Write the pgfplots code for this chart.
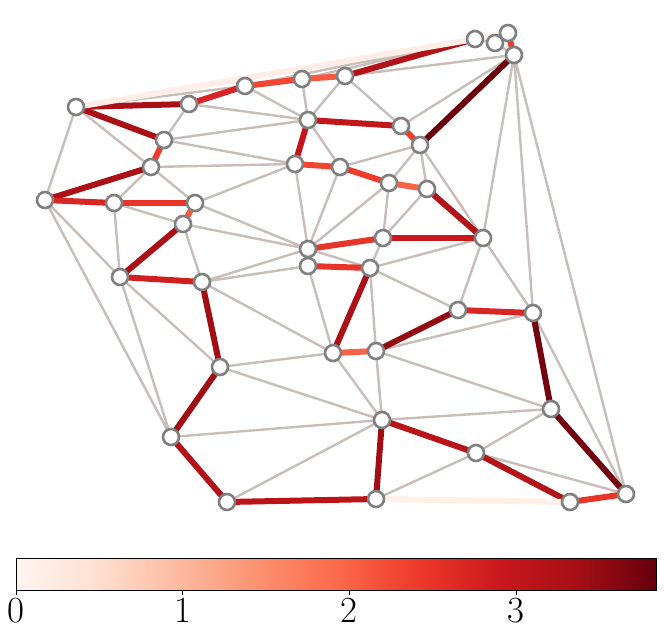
\documentclass[border=0pt]{standalone}
\usepackage{pgfplots}
\pgfplotsset{compat=1.18}
\definecolor{edgegray}{RGB}{200,189,185}
\definecolor{nodegray}{RGB}{128,128,128}
\pgfplotsset{
  colormap={reds}{rgb255(0cm)=(255,245,240) rgb255(1cm)=(254,224,210) rgb255(2cm)=(252,187,161) rgb255(3cm)=(252,146,114) rgb255(4cm)=(251,106,74) rgb255(5cm)=(239,59,44) rgb255(6cm)=(203,24,29) rgb255(7cm)=(165,15,21) rgb255(8cm)=(103,0,13)},
  fe/.style={mesh, point meta=explicit, line width=6bp, line cap=round, forget plot},
}
\begin{document}
\begin{tikzpicture}
\path[use as bounding box] (0,0) rectangle (665bp,-637bp);
\begin{axis}[
  at={(0,0)}, anchor=north west,
  width=665bp, height=540bp, scale only axis,
  xmin=0, xmax=665, ymin=0, ymax=540, y dir=reverse,
  hide axis, clip=false,
  colormap name=reds, point meta min=0, point meta max=3.84,
]
% gray (zero) edges
\addplot[edgegray, line width=2.4bp, unbounded coords=jump, forget plot] coordinates {
(76,107) (45,200) (nan,nan)
(76,107) (151,167) (nan,nan)
(76,107) (245,86) (nan,nan)
(189,104) (164,140) (nan,nan)
(189,104) (308,120) (nan,nan)
(245,86) (308,120) (nan,nan)
(302,79) (308,120) (nan,nan)
(164,140) (308,120) (nan,nan)
(164,140) (295,164) (nan,nan)
(151,167) (295,164) (nan,nan)
(151,167) (114,203) (nan,nan)
(151,167) (195,203) (nan,nan)
(195,203) (295,164) (nan,nan)
(308,120) (345,76) (nan,nan)
(345,76) (401,126) (nan,nan)
(308,120) (340,167) (nan,nan)
(401,126) (514,55) (nan,nan)
(420,145) (340,167) (nan,nan)
(420,145) (389,183) (nan,nan)
(420,145) (427,189) (nan,nan)
(420,145) (483,238) (nan,nan)
(514,55) (483,238) (nan,nan)
(514,55) (533,313) (nan,nan)
(514,55) (626,494) (nan,nan)
(345,76) (514,55) (nan,nan)
(245,86) (475,39) (nan,nan)
(302,79) (475,39) (nan,nan)
(475,39) (495,43) (nan,nan)
(495,43) (514,55) (nan,nan)
(495,43) (508,33) (nan,nan)
(340,167) (308,249) (nan,nan)
(389,183) (308,249) (nan,nan)
(389,183) (383,238) (nan,nan)
(427,189) (383,238) (nan,nan)
(295,164) (308,249) (nan,nan)
(195,203) (308,249) (nan,nan)
(183,224) (308,249) (nan,nan)
(202,282) (308,249) (nan,nan)
(202,282) (308,266) (nan,nan)
(308,266) (333,353) (nan,nan)
(308,249) (370,268) (nan,nan)
(383,238) (370,268) (nan,nan)
(370,268) (483,238) (nan,nan)
(370,268) (458,310) (nan,nan)
(370,268) (376,351) (nan,nan)
(483,238) (458,310) (nan,nan)
(483,238) (533,313) (nan,nan)
(376,351) (382,420) (nan,nan)
(333,353) (382,420) (nan,nan)
(333,353) (220,367) (nan,nan)
(202,282) (333,353) (nan,nan)
(220,367) (382,420) (nan,nan)
(171,437) (382,420) (nan,nan)
(227,502) (382,420) (nan,nan)
(376,499) (476,453) (nan,nan)
(382,420) (551,409) (nan,nan)
(376,351) (551,409) (nan,nan)
(376,351) (533,313) (nan,nan)
(476,453) (551,409) (nan,nan)
(476,453) (626,494) (nan,nan)
(533,313) (626,494) (nan,nan)
(45,200) (120,277) (nan,nan)
(45,200) (171,437) (nan,nan)
(114,203) (120,277) (nan,nan)
(114,203) (183,224) (nan,nan)
(183,224) (202,282) (nan,nan)
(120,277) (220,367) (nan,nan)
(120,277) (171,437)
};
% flow edges
\addplot[fe] coordinates {(76,107) [3.3] (189,104) [3.3]};
\addplot[fe] coordinates {(76,107) [3.3] (164,140) [3.3]};
\addplot[fe] coordinates {(189,104) [2.7] (245,86) [2.7]};
\addplot[fe] coordinates {(245,86) [2.3] (302,79) [2.3]};
\addplot[fe] coordinates {(302,79) [2.1] (345,76) [2.1]};
\addplot[fe] coordinates {(345,76) [3.2] (475,39) [3.2]};
\addplot[fe] coordinates {(76,107) [0.15] (475,39) [0.15]};
\addplot[fe] coordinates {(475,39) [0.1] (508,33) [0.1]};
\addplot[fe] coordinates {(508,33) [2.4] (514,55) [2.4]};
\addplot[fe] coordinates {(514,55) [3.8] (420,145) [3.8]};
\addplot[fe] coordinates {(308,120) [3.0] (401,126) [3.0]};
\addplot[fe] coordinates {(308,120) [3.0] (295,164) [3.0]};
\addplot[fe] coordinates {(401,126) [2.4] (420,145) [2.4]};
\addplot[fe] coordinates {(295,164) [2.3] (340,167) [2.3]};
\addplot[fe] coordinates {(340,167) [2.4] (389,183) [2.4]};
\addplot[fe] coordinates {(389,183) [2.0] (427,189) [2.0]};
\addplot[fe] coordinates {(427,189) [3.2] (483,238) [3.2]};
\addplot[fe] coordinates {(164,140) [2.4] (151,167) [2.4]};
\addplot[fe] coordinates {(151,167) [3.3] (45,200) [3.3]};
\addplot[fe] coordinates {(45,200) [2.7] (114,203) [2.7]};
\addplot[fe] coordinates {(114,203) [2.5] (195,203) [2.5]};
\addplot[fe] coordinates {(195,203) [2.1] (183,224) [2.1]};
\addplot[fe] coordinates {(183,224) [3.3] (120,277) [3.3]};
\addplot[fe] coordinates {(120,277) [2.8] (202,282) [2.8]};
\addplot[fe] coordinates {(202,282) [3.4] (220,367) [3.4]};
\addplot[fe] coordinates {(220,367) [3.4] (171,437) [3.4]};
\addplot[fe] coordinates {(171,437) [3.2] (227,502) [3.2]};
\addplot[fe] coordinates {(227,502) [3.1] (376,499) [3.1]};
\addplot[fe] coordinates {(376,499) [3.4] (382,420) [3.4]};
\addplot[fe] coordinates {(382,420) [3.1] (476,453) [3.1]};
\addplot[fe] coordinates {(476,453) [3.2] (570,502) [3.2]};
\addplot[fe] coordinates {(570,502) [2.5] (626,494) [2.5]};
\addplot[fe] coordinates {(626,494) [3.75] (551,409) [3.75]};
\addplot[fe] coordinates {(551,409) [3.75] (533,313) [3.75]};
\addplot[fe] coordinates {(533,313) [2.7] (458,310) [2.7]};
\addplot[fe] coordinates {(458,310) [3.5] (376,351) [3.5]};
\addplot[fe] coordinates {(376,351) [2.0] (333,353) [2.0]};
\addplot[fe] coordinates {(333,353) [3.3] (370,268) [3.3]};
\addplot[fe] coordinates {(370,268) [2.5] (308,266) [2.5]};
\addplot[fe] coordinates {(308,249) [2.5] (383,238) [2.5]};
\addplot[fe] coordinates {(383,238) [2.9] (483,238) [2.9]};
\addplot[fe] coordinates {(376,499) [0.12] (570,502) [0.12]};
% nodes
\addplot[only marks, mark=*, mark size=8bp, mark options={fill=white, draw=nodegray, line width=2.6bp}, forget plot] coordinates {
(76,107) (189,104) (245,86) (302,79) (345,76) (475,39) (495,43) (508,33) (514,55)
(164,140) (308,120) (401,126) (420,145) (151,167) (295,164) (340,167) (389,183) (427,189)
(45,200) (114,203) (195,203) (183,224) (308,249) (383,238) (483,238) (308,266) (370,268)
(120,277) (202,282) (458,310) (533,313) (333,353) (376,351) (220,367) (551,409) (382,420)
(171,437) (476,453) (227,502) (376,499) (570,502) (626,494)
};
\end{axis}
% colorbar
\begin{axis}[
  at={(16bp,-558bp)}, anchor=north west,
  width=640bp, height=32bp, scale only axis,
  xmin=0, xmax=3.84, ymin=0, ymax=1,
  colormap name=reds, point meta min=0, point meta max=3.84,
  xtick={0,1,2,3}, ytick=\empty,
  axis on top,
  xtick pos=bottom,
  tick align=outside, major tick length=5bp,
  xtick style={draw=black, line width=0.6bp},
  /pgf/number format/assume math mode=true,
  ticklabel style={font=\fontsize{37}{37}\selectfont},
  axis line style={draw=black, line width=0.8bp},
]
\addplot[surf, shader=interp, point meta=x] table {
x y
0 0
3.84 0

0 1
3.84 1
};
\end{axis}
\end{tikzpicture}
\end{document}
